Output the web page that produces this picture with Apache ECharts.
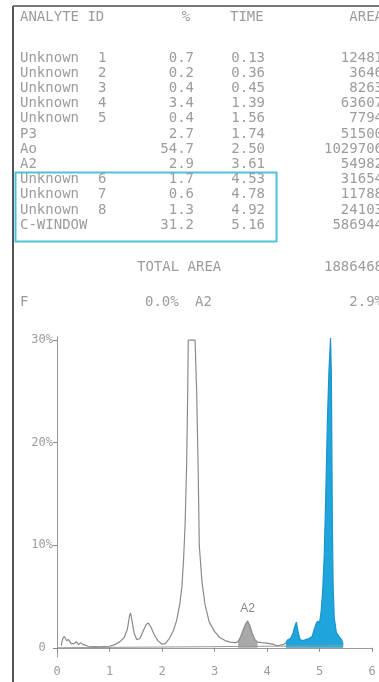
<!DOCTYPE html>
<html>
<head>
<meta charset="utf-8">
<script src="https://cdn.jsdelivr.net/npm/echarts@6.0.0/dist/echarts.min.js"></script>
<style>
  html, body { margin: 0; padding: 0; background: #fff; }
  #chart { width: 379px; height: 682px; }
</style>
</head>
<body>
<div id="chart"></div>
<script>
// peak report table
const analyteNames = ['Unknown', 'Unknown', 'Unknown', 'Unknown', 'Unknown', 'P3', 'Ao', 'A2', 'Unknown', 'Unknown', 'Unknown', 'C-WINDOW']
const analyteIds = ['1', '2', '3', '4', '5', '', '', '', '6', '7', '8', '']
const percents = ['0.7', '0.2', '0.4', '3.4', '0.4', '2.7', '54.7', '2.9', '1.7', '0.6', '1.3', '31.2']
const retTimes = ['0.13', '0.36', '0.45', '1.39', '1.56', '1.74', '2.50', '3.61', '4.53', '4.78', '4.92', '5.16']
const areas = ['12481', '3646', '8263', '63607', '7794', '51500', '1029706', '54982', '31654', '11788', '24103', '586944']
const totalArea = '1886468'
const footer = ['F', '0.0%', 'A2', '2.9%']

// chromatogram trace (time in min, signal in %)
const traceTime = [0.08, 0.11, 0.14, 0.18, 0.22, 0.27, 0.33, 0.37, 0.41, 0.45, 0.5, 0.6, 0.8, 1.0, 1.1, 1.2, 1.28, 1.34, 1.38, 1.40, 1.43, 1.47, 1.52, 1.58, 1.64, 1.70, 1.74, 1.79, 1.85, 1.92, 2.0, 2.06, 2.14, 2.22, 2.28, 2.34, 2.38, 2.41, 2.44, 2.47, 2.49, 2.50, 2.63, 2.66, 2.69, 2.71, 2.76, 2.82, 2.9, 3.0, 3.1, 3.2, 3.3, 3.4, 3.45, 3.5, 3.55, 3.59, 3.63, 3.67, 3.72, 3.77, 3.82, 3.9, 4.0, 4.1, 4.2, 4.3, 4.36]
const traceValue = [0.2, 0.9, 1.1, 0.7, 0.8, 0.4, 0.4, 0.6, 0.3, 0.5, 0.3, 0.15, 0.1, 0.15, 0.3, 0.6, 1.0, 1.8, 3.1, 3.4, 2.6, 1.4, 0.8, 0.9, 1.6, 2.3, 2.4, 2.0, 1.3, 0.7, 0.35, 0.4, 0.9, 1.7, 2.7, 4.3, 6.0, 8.5, 12, 18, 25, 30, 30, 25, 17, 10, 6.5, 4.2, 2.5, 1.6, 1.0, 0.7, 0.55, 0.5, 0.6, 1.1, 1.8, 2.3, 2.6, 2.2, 1.4, 0.8, 0.55, 0.5, 0.45, 0.35, 0.2, 0.3, 0.5]

// C-window section (blue)
const windowTime = [4.36, 4.40, 4.45, 4.50, 4.53, 4.56, 4.59, 4.63, 4.68, 4.74, 4.80, 4.86, 4.90, 4.94, 4.97, 5.00, 5.03, 5.06, 5.09, 5.12, 5.15, 5.18, 5.21, 5.225, 5.235, 5.245, 5.26, 5.28, 5.32, 5.37, 5.42, 5.45]
const windowValue = [0.5, 0.8, 0.9, 1.5, 2.1, 2.5, 1.6, 0.8, 0.7, 0.8, 0.9, 1.1, 1.8, 2.4, 2.6, 2.4, 3.5, 5.5, 9, 15, 22, 27, 30.2, 27, 20, 12, 6, 3, 1.5, 1.1, 0.8, 0.3]

const baseTime = [0, 5.45]
const baseValue = [0, 0.2]
const a2Start = 3.45
const a2End = 3.82

const yTicks = [0, 10, 20, 30]

const pairs = (ts, vs) => ts.map((t, i) => [t, vs[i]])
const a2Points = pairs(traceTime, traceValue).filter(p => p[0] >= a2Start && p[0] <= a2End)

const textColor = '#9c9c9c'
const mono = '14px "DejaVu Sans Mono", "Liberation Mono", monospace'

// table texts
const tableText = (text, x, y, align) => ({
  type: 'text',
  x,
  y,
  style: {
    text,
    fill: textColor,
    font: mono,
    textAlign: align || 'left',
    textVerticalAlign: 'middle'
  }
})

const rowY = i => 58 + i * 15.2
const graphics = [
  // frame
  { type: 'line', shape: { x1: 13, y1: 6, x2: 13, y2: 682 }, style: { stroke: '#555', lineWidth: 2 } },
  { type: 'line', shape: { x1: 13, y1: 6, x2: 379, y2: 6 }, style: { stroke: '#777', lineWidth: 2 } },
  // highlighted rows
  { type: 'rect', shape: { x: 15.5, y: 172.5, width: 261, height: 69 }, style: { fill: 'none', stroke: '#4cc3d8', lineWidth: 2 } },
  tableText('ANALYTE ID', 20, 17),
  tableText('%', 186, 17, 'center'),
  tableText('TIME', 230, 17),
  tableText('AREA', 383, 17, 'right'),
  tableText('TOTAL AREA', 137, 267),
  tableText(totalArea, 383, 267, 'right'),
  tableText(footer[0], 20, 302),
  tableText(footer[1], 145, 302),
  tableText(footer[2], 195, 302),
  tableText(footer[3], 383, 302, 'right')
]
analyteNames.forEach((name, i) => {
  const y = rowY(i)
  graphics.push(tableText(name, 20, y))
  if (analyteIds[i]) graphics.push(tableText(analyteIds[i], 98, y))
  graphics.push(tableText(percents[i], 194, y, 'right'))
  graphics.push(tableText(retTimes[i], 265, y, 'right'))
  graphics.push(tableText(areas[i], 383, y, 'right'))
})

const chart = echarts.init(document.getElementById('chart'))

const option = {
  backgroundColor: '#fff',
  animation: false,
  grid: { left: 57, right: 7, top: 337, bottom: 25 },
  xAxis: {
    type: 'value',
    min: 0,
    max: 6,
    interval: 1,
    splitLine: { show: false },
    axisLine: { lineStyle: { color: '#999', width: 1 } },
    axisTick: { length: 4, lineStyle: { color: '#888' } },
    axisLabel: {
      color: textColor,
      fontFamily: '"DejaVu Sans Mono", monospace',
      fontSize: 12,
      margin: 9
    }
  },
  yAxis: {
    type: 'value',
    min: -0.9,
    max: 30.3,
    splitLine: { show: false },
    axisLine: { show: true, lineStyle: { color: '#999', width: 1 } },
    axisTick: { show: true, length: 4, customValues: yTicks, lineStyle: { color: '#888' } },
    axisLabel: {
      customValues: yTicks,
      color: textColor,
      fontFamily: '"DejaVu Sans Mono", monospace',
      fontSize: 12,
      margin: 4,
      formatter: v => (v === 0 ? '0 ' : v + '%')
    }
  },
  series: [
    {
      name: 'baseline',
      type: 'line',
      data: pairs(baseTime, baseValue),
      symbol: 'none',
      lineStyle: { color: '#999', width: 1 }
    },
    {
      name: 'A2 area',
      type: 'line',
      data: a2Points,
      symbol: 'none',
      lineStyle: { width: 0 },
      areaStyle: { color: '#a9a9a9', opacity: 1 },
      z: 1
    },
    {
      name: 'trace',
      type: 'line',
      data: pairs(traceTime, traceValue),
      symbol: 'none',
      lineStyle: { color: '#8a8a8a', width: 1.2 },
      markPoint: {
        symbol: 'rect',
        symbolSize: 1,
        itemStyle: { color: 'transparent' },
        label: {
          show: true,
          formatter: 'A2',
          color: '#8a8a8a',
          fontFamily: 'Arial, sans-serif',
          fontSize: 12,
          offset: [0, -12]
        },
        data: [{ coord: [3.63, 2.6] }]
      },
      z: 3
    },
    {
      name: 'C-window',
      type: 'line',
      data: pairs(windowTime, windowValue),
      symbol: 'none',
      lineStyle: { color: '#1b94cc', width: 1.2 },
      areaStyle: { color: '#1ea5dc', opacity: 1 },
      z: 2
    }
  ],
  graphic: graphics
}

chart.setOption(option)
</script>
</body>
</html>
